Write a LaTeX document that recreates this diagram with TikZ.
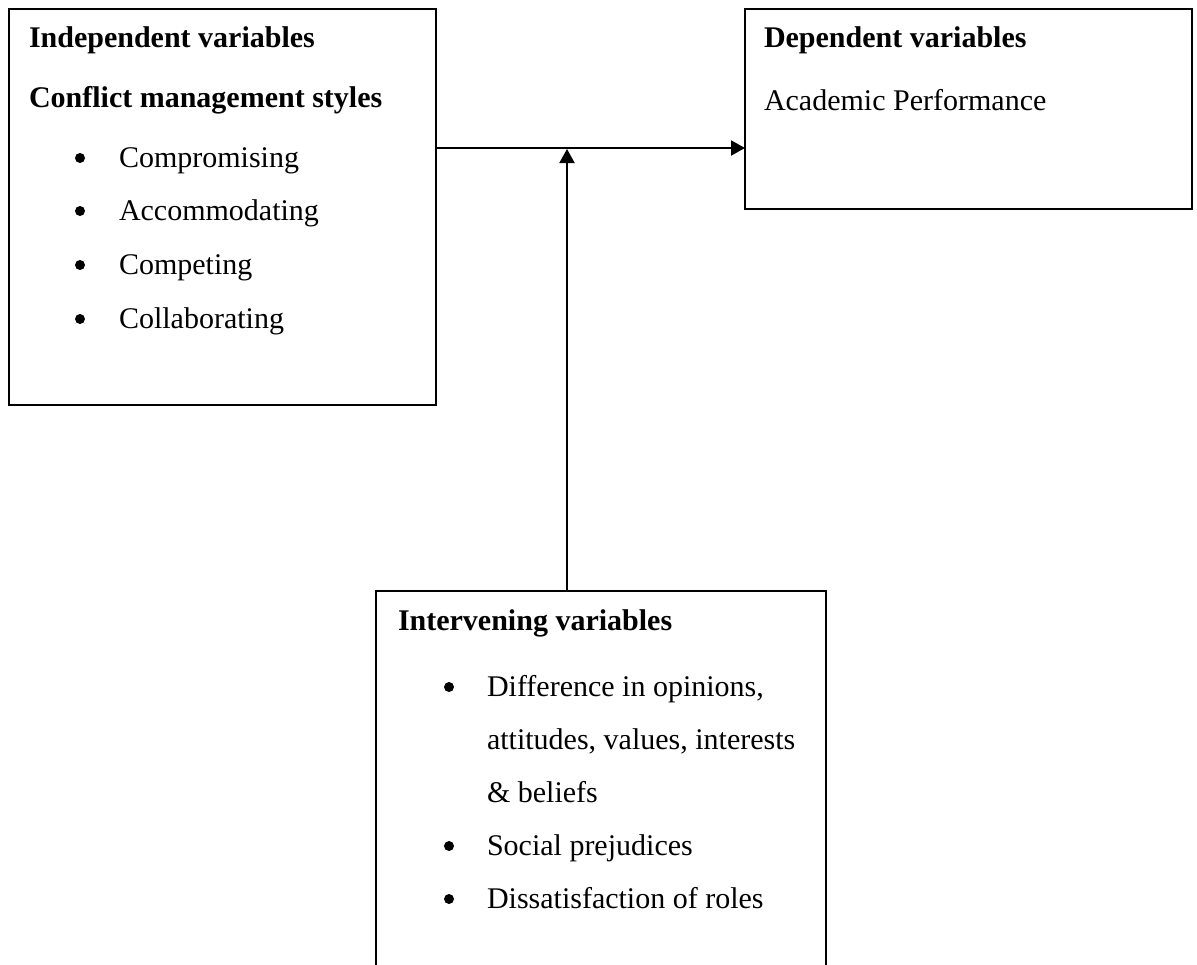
\documentclass[tikz,border=0pt]{standalone}
\usepackage{fontspec}
\setmainfont{Liberation Serif}
\usetikzlibrary{arrows.meta}
\begin{document}
\begin{tikzpicture}[x=0.5pt,y=-0.5pt,
  box/.style={draw=black, line width=1pt, inner sep=0pt, outer sep=0pt, anchor=north west},
  txt/.style={inner sep=0pt, outer sep=0pt, anchor=base west, font=\fontsize{15pt}{18pt}\selectfont},
  hdr/.style={inner sep=0pt, outer sep=0pt, anchor=base west, font=\fontsize{15pt}{18pt}\selectfont\bfseries},
  bul/.style={circle, fill=black, inner sep=0pt, minimum size=5pt},
  conn/.style={line width=1pt, -{Triangle[length=7pt,width=7.5pt]}}]
\useasboundingbox (0,0) rectangle (1197,964);
\clip (0,0) rectangle (1197,964);
\fill[white] (0,0) rectangle (1197,964);
% boxes
\node[box, minimum width=213.5pt, minimum height=198pt] (lb) at (9,9) {};
\node[box, minimum width=223.5pt, minimum height=100pt] (rb) at (745,9) {};
\node[box, minimum width=225pt, minimum height=215pt] (bb) at (376,591) {};
% left box text
\node[hdr] (l1) at (29,47) {Independent variables};
\node[hdr] (l2) at (29,107) {Conflict management styles};
\node[bul] (lb1) at (80,158) {};
\node[txt] (lt1) at (119,167) {Compromising};
\node[bul] (lb2) at (80,211) {};
\node[txt] (lt2) at (119,220) {Accommodating};
\node[bul] (lb3) at (80,265) {};
\node[txt] (lt3) at (119,274) {Competing};
\node[bul] (lb4) at (80,319) {};
\node[txt] (lt4) at (119,328) {Collaborating};
% right box text
\node[hdr] (r1) at (764,47) {Dependent variables};
\node[txt] (r2) at (764,110) {Academic Performance};
% bottom box text
\node[hdr] (b1) at (398,630) {Intervening variables};
\node[bul] (bb1) at (449,687) {};
\node[txt] (bt1) at (487,696) {Difference in opinions,};
\node[txt] (bt1b) at (487,749) {attitudes, values, interests};
\node[txt] (bt1c) at (487,802) {\&~beliefs};
\node[bul] (bb2) at (449,846) {};
\node[txt] (bt2) at (487,855) {Social prejudices};
\node[bul] (bb3) at (449,899) {};
\node[txt] (bt3) at (487,908) {Dissatisfaction of roles};
% connectors
\coordinate (h) at (0,148);
\coordinate (vt) at (567,149);
\draw[conn] (h -| lb.east) -- (h -| rb.west);
\draw[conn] (vt |- bb.north) -- (vt);
\end{tikzpicture}
\end{document}
